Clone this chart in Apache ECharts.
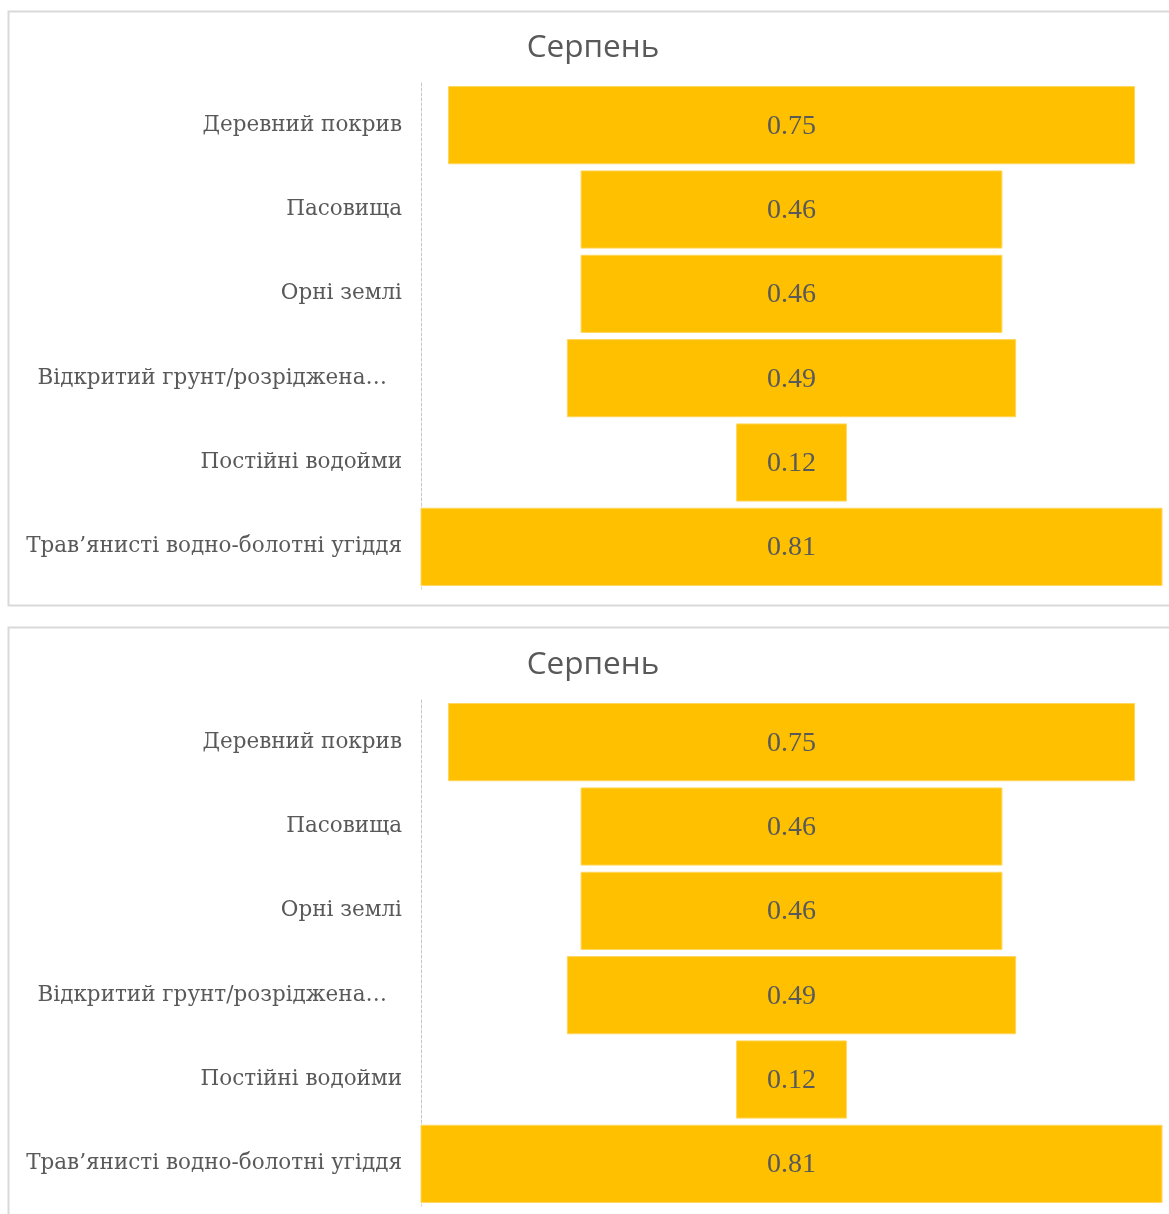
<!DOCTYPE html>
<html>
<head>
<meta charset="utf-8">
<script src="https://cdn.jsdelivr.net/npm/echarts@6/dist/echarts.min.js"></script>
<style>
html,body{margin:0;padding:0;background:#fff;}
#c{width:1169px;height:1214px;}
</style>
</head>
<body>
<div id="c"></div>
<script>
var titleText = 'Серпень';
var categories = ['Деревний покрив', 'Пасовища', 'Орні землі', 'Відкритий грунт/розріджена…', 'Постійні водойми', 'Трав’янисті водно-болотні угіддя'];
var values = [0.75, 0.46, 0.46, 0.49, 0.12, 0.81];

var chart = echarts.init(document.getElementById('c'));
var maxV = Math.max.apply(null, values);
var seriesData = values.map(function (v, i) { return [v, i]; });

var VALUE_FONT = '"Liberation Serif", serif';
var CAT_FONT = '"DejaVu Serif", serif';

function renderItem(params, api) {
  var v = api.value(0);
  var idx = api.value(1);
  var p1 = api.coord([-v / 2, idx]);
  var p2 = api.coord([v / 2, idx]);
  var h = api.size([0, 1])[1] * 0.915;
  return {
    type: 'group',
    children: [
      {
        type: 'rect',
        shape: { x: p1[0], y: p1[1] - h / 2, width: p2[0] - p1[0], height: h },
        style: { fill: '#FFC000', stroke: '#FFD65C', lineWidth: 1 }
      },
      {
        type: 'text',
        x: (p1[0] + p2[0]) / 2,
        y: p1[1] + 1,
        style: {
          text: v.toFixed(2),
          fill: '#595959',
          font: '28px ' + VALUE_FONT,
          align: 'center',
          verticalAlign: 'middle'
        }
      }
    ]
  };
}

function yAxisFor(gridIndex) {
  return {
    type: 'category',
    gridIndex: gridIndex,
    data: categories,
    inverse: true,
    axisTick: { show: false },
    axisLine: { show: true, onZero: false, lineStyle: { color: '#c8c8c8', width: 1, type: [3, 2] } },
    axisLabel: {
      margin: 19,
      color: '#595959',
      fontFamily: CAT_FONT,
      fontSize: 21.5,
      padding: [6, 0, 0, 0],
      formatter: function (s) { return s.charAt(s.length - 1) === '…' ? s + '\u2002\u2009' : s; }
    },
    splitLine: { show: false }
  };
}
function xAxisFor(gridIndex) {
  return {
    type: 'value',
    gridIndex: gridIndex,
    min: -maxV / 2,
    max: maxV / 2,
    show: false
  };
}

var TITLE_FONT = '"Open Sans", "Noto Sans", sans-serif';
var option = {
  animation: false,
  backgroundColor: '#fff',
  graphic: [
    { type: 'rect', shape: { x: 8.5, y: 11.5, width: 1200, height: 594 }, style: { fill: 'none', stroke: '#d9d9d9', lineWidth: 2 }, silent: true, z: -1 },
    { type: 'rect', shape: { x: 8.5, y: 627.5, width: 1200, height: 700 }, style: { fill: 'none', stroke: '#d9d9d9', lineWidth: 2 }, silent: true, z: -1 },
    { type: 'text', x: 593, y: 48, style: { text: titleText, fill: '#595959', font: '31.5px ' + TITLE_FONT, align: 'center', verticalAlign: 'middle' }, silent: true },
    { type: 'text', x: 593, y: 665, style: { text: titleText, fill: '#595959', font: '31.5px ' + TITLE_FONT, align: 'center', verticalAlign: 'middle' }, silent: true }
  ],
  grid: [
    { left: 421, top: 83, width: 741, height: 506 },
    { left: 421, top: 700, width: 741, height: 506 }
  ],
  xAxis: [xAxisFor(0), xAxisFor(1)],
  yAxis: [yAxisFor(0), yAxisFor(1)],
  series: [
    { type: 'custom', xAxisIndex: 0, yAxisIndex: 0, renderItem: renderItem, data: seriesData, encode: { x: 0, y: 1 } },
    { type: 'custom', xAxisIndex: 1, yAxisIndex: 1, renderItem: renderItem, data: seriesData, encode: { x: 0, y: 1 } }
  ]
};
chart.setOption(option);
</script>
</body>
</html>
